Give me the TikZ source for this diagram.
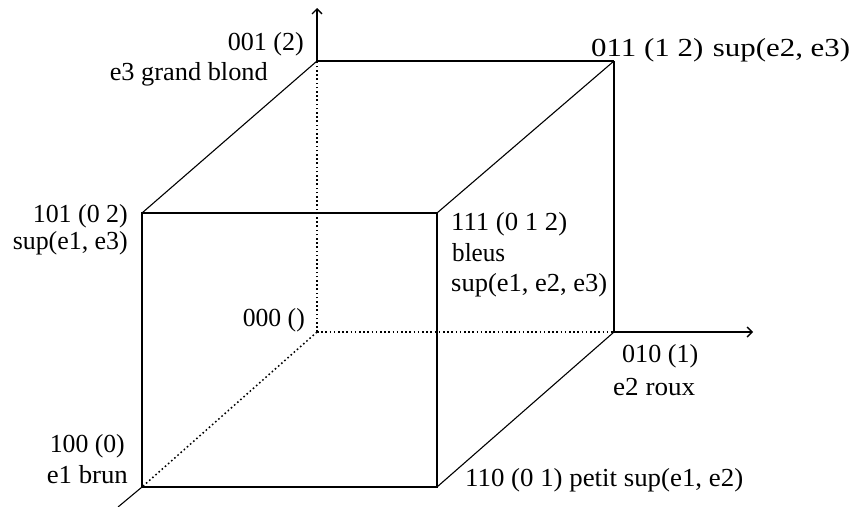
\documentclass[tikz,border=0pt]{standalone}
\usepackage{fontspec}
\usepackage{graphicx}
\setmainfont{Liberation Serif}
\usetikzlibrary{arrows.meta}
\newcommand{\fitw}[2]{\resizebox{#1pt}{\height}{#2}}
\begin{document}
\begin{tikzpicture}[x=1pt,y=-1pt,
  edge/.style={line width=1.6pt},
  thin edge/.style={line width=1.1pt},
  hidden/.style={line width=1.5pt, dash pattern=on 1.6pt off 2.6pt},
  axis/.style={line width=1.6pt,-{Straight Barb[length=5pt,width=10pt,line width=1.4pt]}},
  lbl/.style={inner sep=0pt, font=\fontsize{26}{30}\selectfont}]
\useasboundingbox (0,0) rectangle (856,506);
% vertices
\coordinate (v000) at (317,332);
\coordinate (v010) at (614,332);
\coordinate (v001) at (317,61);
\coordinate (v011) at (614,61);
\coordinate (v100) at (142,487);
\coordinate (v110) at (437,487);
\coordinate (v101) at (142,213);
\coordinate (v111) at (437,213);
\coordinate (ztip) at (317,8);
\coordinate (ytip) at (753,332);
\coordinate (xend) at (118,507);
% hidden edges
\draw[hidden] (v000) -- (v001);
\draw[hidden] (v000) -- (v010);
\draw[hidden] (v000) -- (v100);
% visible edges
\draw[edge] (v001) -- (v011);
\draw[edge] (v011) -- (v010);
\draw[edge] (v101) -- (v111) -- (v110) -- (v100) -- cycle;
\draw[thin edge] (v101) -- (v001);
\draw[thin edge] (v111) -- (v011);
\draw[thin edge] (v110) -- (v010);
% axes
\draw[axis] (v001) -- (ztip);
\draw[axis] (v010) -- (ytip);
\draw[thin edge] (v100) -- (xend);
% labels
\node[lbl,anchor=east] (l001) at (304,44) {\fitw{76}{001 (2)}};
\node[lbl,anchor=east] (l001b) at (268,74) {\fitw{158}{e3 grand blond}};
\node[lbl,anchor=west] (l011) at (591,50) {\fitw{259}{011 (1 2)\hspace{8pt}sup(e2, e3)}};
\node[lbl,anchor=east] (l101) at (128,216) {\fitw{95}{101 (0 2)}};
\node[lbl,anchor=east] (l101b) at (128,243) {\fitw{115}{sup(e1, e3)}};
\node[lbl,anchor=west] (l111) at (451,224) {\fitw{116}{111 (0 1 2)}};
\node[lbl,anchor=west] (l111b) at (452,253) {\fitw{53}{bleus}};
\node[lbl,anchor=west] (l111c) at (451,285) {\fitw{156}{sup(e1, e2, e3)}};
\node[lbl,anchor=east] (l000) at (305,320) {\fitw{62}{000 ()}};
\node[lbl,anchor=west] (l010) at (622,356) {\fitw{76}{010 (1)}};
\node[lbl,anchor=west] (l010b) at (613,387) {\fitw{82}{e2 roux}};
\node[lbl,anchor=east] (l100) at (125,446) {\fitw{75}{100 (0)}};
\node[lbl,anchor=east] (l100b) at (128,475) {\fitw{81}{e1 brun}};
\node[lbl,anchor=west] (l110) at (465,480) {\fitw{278}{110 (0 1) petit sup(e1, e2)}};
\end{tikzpicture}
\end{document}
